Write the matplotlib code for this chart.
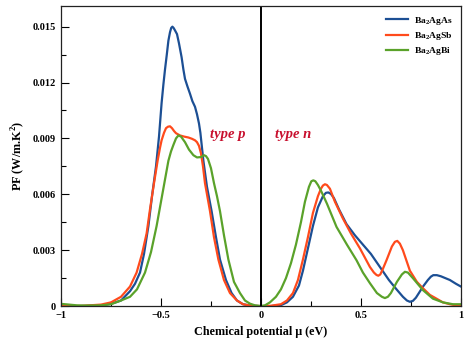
import matplotlib
matplotlib.use("Agg")
import matplotlib.pyplot as plt
from matplotlib.ticker import MultipleLocator

plt.rcParams['font.family'] = ['Liberation Serif', 'DejaVu Serif']
plt.rcParams['mathtext.fontset'] = 'custom'
plt.rcParams['mathtext.rm'] = 'Liberation Serif:bold'
plt.rcParams['mathtext.bf'] = 'Liberation Serif:bold'

labels = ["Ba$_2$AgAs", "Ba$_2$AgSb", "Ba$_2$AgBi"]
colors = ["#1c4f94", "#ff4a1c", "#5aa22a"]

x_as = [-1.0, -0.9, -0.8, -0.75, -0.7, -0.655, -0.63, -0.605, -0.585, -0.563, -0.545, -0.525, -0.51,
        -0.497, -0.488, -0.48, -0.471, -0.463, -0.455, -0.449, -0.443, -0.437, -0.43, -0.42, -0.41,
        -0.397, -0.388, -0.38, -0.368, -0.355, -0.343, -0.33, -0.32, -0.31, -0.303, -0.297, -0.288,
        -0.27, -0.247, -0.225, -0.205, -0.175, -0.147, -0.12, -0.09, -0.05, 0.0,
        0.05, 0.1, 0.13, 0.16, 0.19, 0.21, 0.235, 0.26, 0.285, 0.31, 0.325, 0.337, 0.35, 0.365, 0.39,
        0.428, 0.47, 0.51, 0.55, 0.595, 0.64, 0.678, 0.71, 0.73, 0.745, 0.76, 0.775, 0.79, 0.81, 0.835,
        0.85, 0.862, 0.88, 0.9, 0.945, 0.975, 1.0]
y_as = [0.0, 0.0, 0.00003, 0.00012, 0.0003, 0.0008, 0.0012, 0.0018, 0.0028, 0.0043, 0.0059, 0.0075,
        0.0091, 0.0109, 0.0119, 0.0127, 0.0135, 0.01425, 0.0147, 0.01493, 0.0150, 0.01493, 0.0148, 0.0146,
        0.0141, 0.01336, 0.0127, 0.0122, 0.0118, 0.0114, 0.0110, 0.0107, 0.0103, 0.0098, 0.0093, 0.0087,
        0.0078, 0.0064, 0.0051, 0.0037, 0.0025, 0.0014, 0.0007, 0.0003, 0.0001, 0.00002, 0.0,
        0.0, 0.00005, 0.0002, 0.0005, 0.0011, 0.0019, 0.0031, 0.0043, 0.0053, 0.0059, 0.00608, 0.0061,
        0.00602, 0.0058, 0.0052, 0.0044, 0.0038, 0.0033, 0.0028, 0.0021, 0.0014, 0.0009, 0.0005, 0.0003,
        0.00023, 0.00028, 0.00045, 0.0007, 0.00104, 0.0014, 0.00158, 0.00166, 0.00166, 0.0016, 0.0014,
        0.0012, 0.00105]

x_sb = [-1.0, -0.9, -0.8, -0.75, -0.7, -0.655, -0.622, -0.595, -0.572, -0.555, -0.535, -0.517, -0.505,
        -0.497, -0.485, -0.475, -0.465, -0.455, -0.445, -0.435, -0.425, -0.405, -0.385, -0.363, -0.345,
        -0.33, -0.32, -0.31, -0.3, -0.29, -0.28, -0.255, -0.235, -0.213, -0.185, -0.155, -0.12, -0.09,
        -0.05, 0.0, 0.05, 0.1, 0.13, 0.16, 0.185, 0.21, 0.235, 0.26, 0.285, 0.3, 0.31, 0.32, 0.33, 0.345,
        0.37, 0.41, 0.45, 0.495, 0.545, 0.565, 0.578, 0.587, 0.597, 0.61, 0.628, 0.655, 0.67, 0.682,
        0.695, 0.71, 0.745, 0.78, 0.81, 0.845, 0.878, 0.91, 0.945, 0.975, 1.0]
y_sb = [0.0, 0.00001, 0.00008, 0.0002, 0.0005, 0.00105, 0.0018, 0.0028, 0.0039, 0.0052, 0.0066, 0.0078,
        0.0085, 0.0089, 0.0093, 0.00955, 0.00963, 0.00965, 0.00955, 0.0094, 0.00928, 0.00916, 0.0091,
        0.00905, 0.00898, 0.0089, 0.0088, 0.0086, 0.0082, 0.0075, 0.0066, 0.0051, 0.0037, 0.0025, 0.0014,
        0.0007, 0.0003, 0.0001, 0.00002, 0.0, 0.00002, 0.0001, 0.0003, 0.0007, 0.0014, 0.0025, 0.0037,
        0.0050, 0.0059, 0.0063, 0.00647, 0.00654, 0.0065, 0.0063, 0.0056, 0.0047, 0.0039, 0.0031, 0.0021,
        0.0018, 0.00167, 0.00163, 0.0017, 0.0020, 0.00246, 0.0032, 0.00345, 0.0035, 0.00335, 0.0030,
        0.0019, 0.0013, 0.00096, 0.0006, 0.0004, 0.0002, 0.0001, 0.00004, 0.00002]

x_bi = [-1.0, -0.96, -0.92, -0.88, -0.8, -0.75, -0.7, -0.655, -0.62, -0.58, -0.55, -0.522, -0.49, -0.463,
        -0.45, -0.438, -0.425, -0.413, -0.4, -0.38, -0.36, -0.338, -0.32, -0.3, -0.285, -0.275, -0.265,
        -0.25, -0.235, -0.22, -0.205, -0.185, -0.163, -0.135, -0.105, -0.08, -0.055, -0.03, 0.0, 0.02,
        0.045, 0.075, 0.1, 0.125, 0.15, 0.175, 0.2, 0.22, 0.24, 0.252, 0.262, 0.272, 0.285, 0.3, 0.33,
        0.378, 0.43, 0.478, 0.51, 0.545, 0.58, 0.605, 0.62, 0.635, 0.65, 0.68, 0.705, 0.72, 0.735, 0.76,
        0.81, 0.86, 0.91, 0.96, 1.0]
y_bi = [0.00012, 0.00008, 0.00004, 0.00003, 0.00004, 0.0001, 0.0003, 0.0005, 0.0009, 0.0018, 0.0029,
        0.0043, 0.0062, 0.0078, 0.0083, 0.00865, 0.009, 0.00916, 0.0091, 0.0088, 0.0084, 0.0081, 0.00798,
        0.008, 0.0081, 0.00805, 0.0079, 0.0074, 0.0066, 0.0059, 0.0051, 0.0038, 0.0025, 0.0013, 0.0007,
        0.0003, 0.00013, 0.00004, 0.0, 0.00004, 0.0002, 0.0005, 0.0009, 0.0015, 0.0023, 0.0033, 0.0045,
        0.0056, 0.0064, 0.0067, 0.00675, 0.0067, 0.0065, 0.0062, 0.0055, 0.00425, 0.0033, 0.00246, 0.0018,
        0.00123, 0.0007, 0.0005, 0.00043, 0.0005, 0.0007, 0.0013, 0.0017, 0.00184, 0.0018, 0.0015, 0.00086,
        0.0004, 0.0002, 0.0001, 0.0001]

x_ticks = [-1, -0.5, 0, 0.5, 1]
x_ticklabels = ["\u22121", "\u22120.5", "0", "0.5", "1"]
y_ticks = [0, 0.003, 0.006, 0.009, 0.012, 0.015]
y_ticklabels = ["0", "0.003", "0.006", "0.009", "0.012", "0.015"]

fig = plt.figure(figsize=(4.66, 3.42), dpi=100)
ax = fig.add_axes([0.131, 0.105, 0.858, 0.877])

for xs, ys, c, lab in zip([x_as, x_sb, x_bi], [y_as, y_sb, y_bi], colors, labels):
    ax.plot(xs, ys, color=c, lw=1.6, label=lab, solid_joinstyle="round")

ax.axvline(0, color="black", lw=1.4)

ax.set_xlim(-1, 1)
ax.set_ylim(0, 0.0161)
ax.set_xticks(x_ticks)
ax.set_xticklabels(x_ticklabels, fontweight="bold", fontsize=7.5)
ax.set_yticks(y_ticks)
ax.set_yticklabels(y_ticklabels, fontweight="bold", fontsize=7.5)
ax.xaxis.set_minor_locator(MultipleLocator(0.25))
ax.yaxis.set_minor_locator(MultipleLocator(0.0015))
ax.tick_params(which="both", direction="in", top=False, right=False, width=0.8)
ax.tick_params(which="major", length=5.5)
ax.tick_params(which="minor", length=3.5)
for s in ax.spines.values():
    s.set_linewidth(0.9)
    s.set_color("#222222")

ax.set_xlabel("Chemical potential \u03bc (eV)", fontweight="bold", fontsize=8.7)
ax.set_ylabel("PF (W/m.K$^\\mathbf{2}$)", fontweight="bold", fontsize=8.7)

ax.text(-0.255, 0.0092, "type p", color="#c8102e", fontsize=10.5, fontweight="bold",
        style="italic", ha="left", va="center")
ax.text(0.07, 0.0092, "type n", color="#c8102e", fontsize=10.5, fontweight="bold",
        style="italic", ha="left", va="center")

leg = ax.legend(loc="upper right", frameon=False, handlelength=2.3, handletextpad=0.6,
                borderaxespad=0.5, labelspacing=0.35, prop={"weight": "bold", "size": 6.8})

fig.savefig("out.png", dpi=100)
